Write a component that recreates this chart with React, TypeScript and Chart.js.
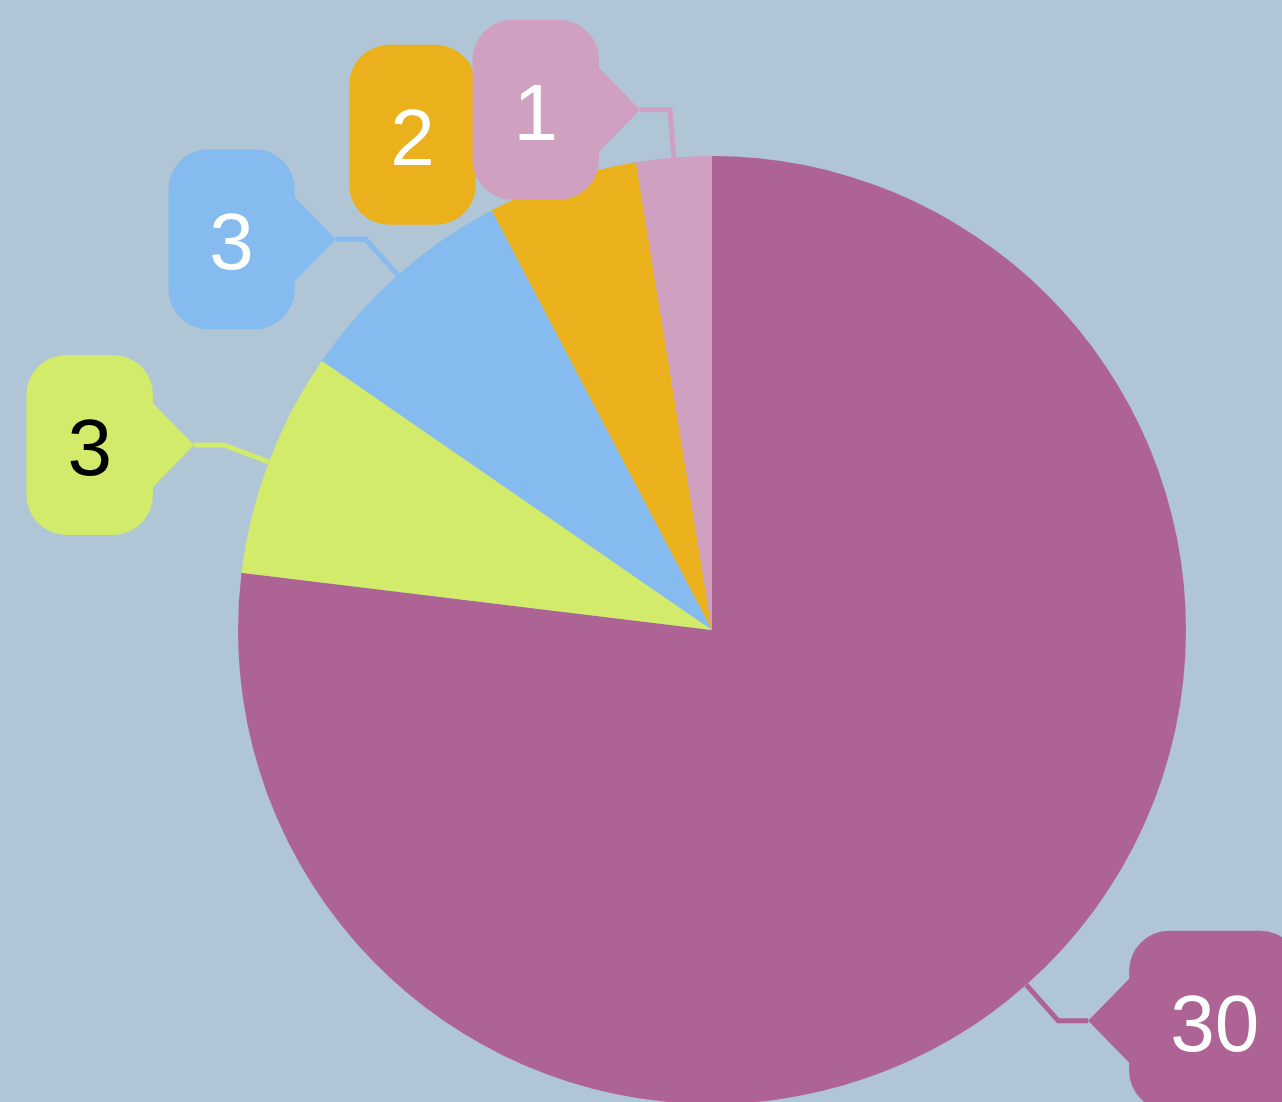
import React, { useEffect, useRef } from "react";
import { Chart, registerables } from "chart.js";

Chart.register(...registerables);

const categories = ["A", "B", "C", "D", "E"];
const values = [30, 3, 3, 2, 1];
const sliceColors = ["#AD6494", "#D2EB6A", "#85BBEE", "#EAB11D", "#D0A0C1"];
const labelTextColors = ["#FFFFFF", "#000000", "#FFFFFF", "#FFFFFF", "#FFFFFF"];
const BACKGROUND = "#B0C6D6";

const FONT_SIZE = 80;
const RADIAL = 48;
const HORIZ = 30;
const POINTER_DEPTH = 41;
const POINTER_HALF = 42;
const BOX_H = 180;
const PAD_X = 41;
const CORNER = 40;

const bgPlugin = {
  id: "bg",
  beforeDraw(chart: any) {
    const ctx = chart.ctx;
    ctx.save();
    ctx.fillStyle = BACKGROUND;
    ctx.fillRect(0, 0, chart.width, chart.height);
    ctx.restore();
  },
};

const calloutPlugin = {
  id: "callouts",
  afterDatasetsDraw(chart: any) {
    const ctx = chart.ctx;
    const meta = chart.getDatasetMeta(0);
    ctx.save();
    ctx.font = `${FONT_SIZE}px "Liberation Sans", Arial, sans-serif`;
    meta.data.forEach((arc: any, i: number) => {
      const { x, y, startAngle, endAngle, outerRadius } = arc.getProps(
        ["x", "y", "startAngle", "endAngle", "outerRadius"],
        true
      );
      const color = sliceColors[i];
      const mid = (startAngle + endAngle) / 2;
      const ex = x + Math.cos(mid) * outerRadius;
      const ey = y + Math.sin(mid) * outerRadius;
      const bx = ex + Math.cos(mid) * RADIAL;
      const by = ey + Math.sin(mid) * RADIAL;
      const side = Math.cos(mid) >= 0 ? 1 : -1;
      const tx = bx + side * HORIZ;
      const ty = by;

      ctx.strokeStyle = color;
      ctx.lineWidth = 5;
      ctx.lineJoin = "miter";
      ctx.beginPath();
      ctx.moveTo(ex, ey);
      ctx.lineTo(bx, by);
      ctx.lineTo(tx, ty);
      ctx.stroke();

      const text = String(values[i]);
      const tw = ctx.measureText(text).width;
      const w = tw + 2 * PAD_X;
      const h = BOX_H;
      const near = tx + side * POINTER_DEPTH;
      const left = side > 0 ? near : near - w;
      const right = left + w;
      const top = ty - h / 2;
      const bottom = top + h;
      const r = CORNER;

      ctx.fillStyle = color;
      ctx.beginPath();
      ctx.moveTo(left + r, top);
      ctx.lineTo(right - r, top);
      ctx.arcTo(right, top, right, top + r, r);
      if (side < 0) {
        ctx.lineTo(right, ty - POINTER_HALF);
        ctx.lineTo(tx, ty);
        ctx.lineTo(right, ty + POINTER_HALF);
      }
      ctx.lineTo(right, bottom - r);
      ctx.arcTo(right, bottom, right - r, bottom, r);
      ctx.lineTo(left + r, bottom);
      ctx.arcTo(left, bottom, left, bottom - r, r);
      if (side > 0) {
        ctx.lineTo(left, ty + POINTER_HALF);
        ctx.lineTo(tx, ty);
        ctx.lineTo(left, ty - POINTER_HALF);
      }
      ctx.lineTo(left, top + r);
      ctx.arcTo(left, top, left + r, top, r);
      ctx.closePath();
      ctx.fill();

      ctx.fillStyle = labelTextColors[i];
      ctx.textAlign = "center";
      ctx.textBaseline = "alphabetic";
      ctx.fillText(text, (left + right) / 2, ty + 30);
    });
    ctx.restore();
  },
};

export default function App() {
  const canvasRef = useRef<HTMLCanvasElement | null>(null);

  useEffect(() => {
    document.body.style.margin = "0";
    document.body.style.background = BACKGROUND;
    document.body.style.overflow = "hidden";
    const canvas = canvasRef.current;
    if (!canvas) return;
    const chart = new Chart(canvas, {
      type: "pie",
      data: {
        labels: categories,
        datasets: [
          {
            data: values,
            backgroundColor: sliceColors,
            borderWidth: 0,
            radius: 474,
          } as any,
        ],
      },
      options: {
        responsive: false,
        animation: false,
        events: [],
        layout: { padding: { left: 238, right: 96, top: 160, bottom: 2 } },
        plugins: {
          legend: { display: false },
          tooltip: { enabled: false },
        },
      },
      plugins: [bgPlugin, calloutPlugin],
    });
    return () => chart.destroy();
  }, []);

  return (
    <div style={{ width: 1282, height: 1102, background: BACKGROUND }}>
      <canvas ref={canvasRef} width={1282} height={1102} style={{ display: "block" }} />
    </div>
  );
}
